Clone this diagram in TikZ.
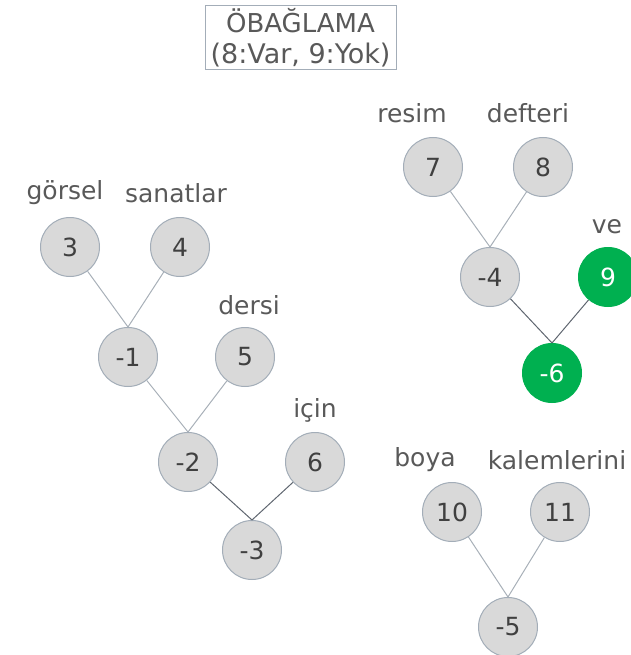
\documentclass[tikz,border=0pt]{standalone}
\usepackage{fontspec}
\setmainfont{DejaVu Sans}
\definecolor{nodefill}{HTML}{D9D9D9}
\definecolor{nodeline}{HTML}{A3ADB8}
\definecolor{txt}{HTML}{404040}
\definecolor{lbl}{HTML}{595959}
\definecolor{grn}{HTML}{00B050}
\definecolor{edgelight}{HTML}{A8B0B8}
\definecolor{edgedark}{HTML}{5F6670}
\tikzset{
  tnode/.style={circle, draw=nodeline, line width=1pt, fill=nodefill, minimum size=59pt,
    inner sep=0pt, text=txt, font=\fontsize{25}{28}\selectfont},
  gnode/.style={tnode, draw=grn, fill=grn, text=white},
  word/.style={text=lbl, font=\fontsize{25}{28}\selectfont, inner sep=0pt},
  edgeL/.style={draw=edgelight, line width=1pt},
  edgeD/.style={draw=edgedark, line width=1pt},
}
\begin{document}
\begin{tikzpicture}[x=1pt, y=-1pt]
\useasboundingbox (0,0) rectangle (630,655);
% title
\node[draw=nodeline, line width=1pt, fill=white, text=lbl, align=center, inner sep=0pt,
  minimum width=191pt, minimum height=64pt, font=\fontsize{26}{31}\selectfont] (title) at (300.5,37.5)
  {ÖBAĞLAMA\\{\fontsize{27}{31}\selectfont (8:Var, 9:Yok)}};
% left tree
\node[tnode] (n3) at (70,247) {3};
\node[tnode] (n4) at (180,247) {4};
\node[tnode] (m1) at (128,357) {-1};
\node[tnode] (n5) at (245,357) {5};
\node[tnode] (m2) at (188,462) {-2};
\node[tnode] (n6) at (315,462) {6};
\node[tnode] (m3) at (252,550) {-3};
% right top tree
\node[tnode] (n7) at (433,167) {7};
\node[tnode] (n8) at (543,167) {8};
\node[tnode] (m4) at (490,277) {-4};
\node[gnode] (n9) at (608,277) {9};
\node[gnode] (m6) at (552,373) {-6};
% right bottom tree
\node[tnode] (n10) at (452,512) {10};
\node[tnode] (n11) at (560,512) {11};
\node[tnode] (m5) at (508,627) {-5};
% words
\node[word] (w3) at (65,193) {görsel};
\node[word] (w4) at (176,193) {sanatlar};
\node[word] (w5) at (249,305) {dersi};
\node[word] (w6) at (315,410) {için};
\node[word] (w7) at (412,113) {resim};
\node[word] (w8) at (528,113) {defteri};
\node[word] (w9) at (607,227) {ve};
\node[word] (w10) at (425,460) {boya};
\node[word] (w11) at (557,460) {kalemlerini};
% connectors
\draw[edgeL] (n3) -- (m1.north);
\draw[edgeL] (n4) -- (m1.north);
\draw[edgeL] (m1) -- (m2.north);
\draw[edgeL] (n5) -- (m2.north);
\draw[edgeD] (m2) -- (m3.north);
\draw[edgeD] (n6) -- (m3.north);
\draw[edgeL] (n7) -- (m4.north);
\draw[edgeL] (n8) -- (m4.north);
\draw[edgeD] (m4) -- (m6.north);
\draw[edgeD] (n9) -- (m6.north);
\draw[edgeL] (n10) -- (m5.north);
\draw[edgeL] (n11) -- (m5.north);
\end{tikzpicture}
\end{document}
